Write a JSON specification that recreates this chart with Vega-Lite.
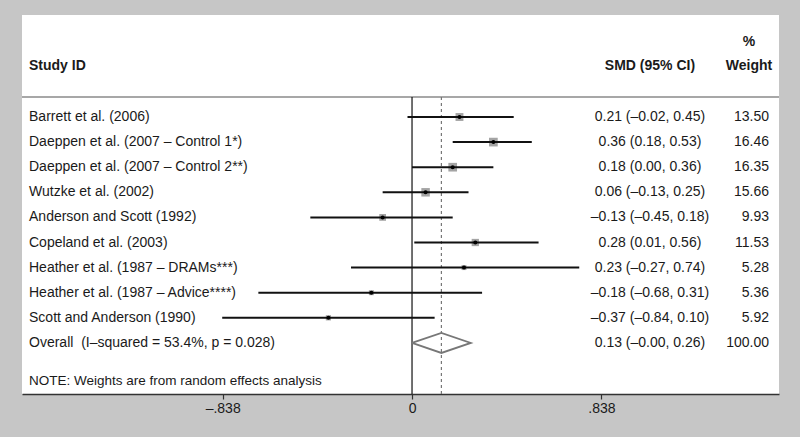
{
  "$schema": "https://vega.github.io/schema/vega-lite/v6.json",
  "width": 757,
  "height": 379,
  "autosize": {"type": "none"},
  "padding": {"left": 22, "top": 15, "right": 21, "bottom": 43},
  "background": "#c6c6c6",
  "view": {"fill": "white", "stroke": null},
  "config": {"font": "Liberation Sans", "text": {"font": "Liberation Sans", "fontSize": 14, "color": "#1a1a1a", "baseline": "middle"}},
  "datasets": {
    "studies": [
      {"row": 1, "study": "Barrett et al. (2006)", "smd": 0.21, "lo": -0.02, "hi": 0.45, "weight": 13.50, "ci": "0.21 (–0.02, 0.45)", "w": "13.50"},
      {"row": 2, "study": "Daeppen et al. (2007 – Control 1*)", "smd": 0.36, "lo": 0.18, "hi": 0.53, "weight": 16.46, "ci": "0.36 (0.18, 0.53)", "w": "16.46"},
      {"row": 3, "study": "Daeppen et al. (2007 – Control 2**)", "smd": 0.18, "lo": 0.00, "hi": 0.36, "weight": 16.35, "ci": "0.18 (0.00, 0.36)", "w": "16.35"},
      {"row": 4, "study": "Wutzke et al. (2002)", "smd": 0.06, "lo": -0.13, "hi": 0.25, "weight": 15.66, "ci": "0.06 (–0.13, 0.25)", "w": "15.66"},
      {"row": 5, "study": "Anderson and Scott (1992)", "smd": -0.13, "lo": -0.45, "hi": 0.18, "weight": 9.93, "ci": "–0.13 (–0.45, 0.18)", "w": "9.93"},
      {"row": 6, "study": "Copeland et al. (2003)", "smd": 0.28, "lo": 0.01, "hi": 0.56, "weight": 11.53, "ci": "0.28 (0.01, 0.56)", "w": "11.53"},
      {"row": 7, "study": "Heather et al. (1987 – DRAMs***)", "smd": 0.23, "lo": -0.27, "hi": 0.74, "weight": 5.28, "ci": "0.23 (–0.27, 0.74)", "w": "5.28"},
      {"row": 8, "study": "Heather et al. (1987 – Advice****)", "smd": -0.18, "lo": -0.68, "hi": 0.31, "weight": 5.36, "ci": "–0.18 (–0.68, 0.31)", "w": "5.36"},
      {"row": 9, "study": "Scott and Anderson (1990)", "smd": -0.37, "lo": -0.84, "hi": 0.10, "weight": 5.92, "ci": "–0.37 (–0.84, 0.10)", "w": "5.92"},
      {"row": 10, "study": "Overall\u00a0 (I–squared = 53.4%, p = 0.028)", "smd": 0.13, "lo": -0.00, "hi": 0.26, "weight": 100.00, "ci": "0.13 (–0.00, 0.26)", "w": "100.00"}
    ],
    "diamond": [
      {"order": 1, "x": 0.0, "y": 10},
      {"order": 2, "x": 0.13, "y": 9.6},
      {"order": 3, "x": 0.26, "y": 10},
      {"order": 4, "x": 0.13, "y": 10.4},
      {"order": 5, "x": 0.0, "y": 10}
    ]
  },
  "data": {"name": "studies"},
  "layer": [
    {
      "data": {"values": [{}]},
      "mark": {"type": "rule", "color": "#8a8a8a", "strokeWidth": 1.5},
      "encoding": {
        "y": {"datum": 0.2, "type": "quantitative", "scale": {"domain": [-3.064, 12.036], "reverse": true, "nice": false, "zero": false}, "axis": null}
      }
    },
    {
      "data": {"values": [{}]},
      "mark": {"type": "rule", "color": "#111", "strokeWidth": 1.2},
      "encoding": {
        "x": {"datum": 0, "type": "quantitative"},
        "y": {"datum": 0.2, "type": "quantitative"},
        "y2": {"datum": 12.036}
      }
    },
    {
      "data": {"values": [{}]},
      "mark": {"type": "rule", "color": "#777", "strokeWidth": 1.2, "strokeDash": [3, 3]},
      "encoding": {
        "x": {"datum": 0.13, "type": "quantitative"},
        "y": {"datum": 0.2, "type": "quantitative"},
        "y2": {"datum": 12.036}
      }
    },
    {
      "transform": [{"filter": "datum.row < 10"}],
      "mark": {"type": "point", "shape": "square", "filled": true, "color": "#a4a4a4", "opacity": 1},
      "encoding": {
        "x": {"field": "smd", "type": "quantitative"},
        "y": {"field": "row", "type": "quantitative"},
        "size": {"field": "weight", "type": "quantitative", "scale": {"domain": [0, 20], "range": [0, 92]}, "legend": null}
      }
    },
    {
      "transform": [{"filter": "datum.row < 10"}],
      "mark": {"type": "rule", "color": "#111", "strokeWidth": 2},
      "encoding": {
        "x": {"field": "lo", "type": "quantitative"},
        "x2": {"field": "hi"},
        "y": {"field": "row", "type": "quantitative"}
      }
    },
    {
      "transform": [{"filter": "datum.row < 10"}],
      "mark": {"type": "point", "shape": "circle", "filled": true, "color": "#000", "size": 16, "opacity": 1},
      "encoding": {
        "x": {"field": "smd", "type": "quantitative"},
        "y": {"field": "row", "type": "quantitative"}
      }
    },
    {
      "data": {"name": "diamond"},
      "mark": {"type": "line", "color": "#777", "strokeWidth": 1.8},
      "encoding": {
        "x": {"field": "x", "type": "quantitative"},
        "y": {"field": "y", "type": "quantitative"},
        "order": {"field": "order"}
      }
    },
    {
      "mark": {"type": "text", "align": "left"},
      "encoding": {
        "x": {"datum": -1.695, "type": "quantitative"},
        "y": {"field": "row", "type": "quantitative"},
        "text": {"field": "study"}
      }
    },
    {
      "mark": {"type": "text", "align": "center"},
      "encoding": {
        "x": {"datum": 1.053, "type": "quantitative"},
        "y": {"field": "row", "type": "quantitative"},
        "text": {"field": "ci"}
      }
    },
    {
      "mark": {"type": "text", "align": "right"},
      "encoding": {
        "x": {"datum": 1.5796, "type": "quantitative"},
        "y": {"field": "row", "type": "quantitative"},
        "text": {"field": "w"}
      }
    },
    {
      "data": {"values": [{}]},
      "mark": {"type": "text", "align": "left", "fontWeight": "bold"},
      "encoding": {
        "x": {"datum": -1.695, "type": "quantitative"},
        "y": {"datum": -1.02, "type": "quantitative"},
        "text": {"value": "Study ID"}
      }
    },
    {
      "data": {"values": [{}]},
      "mark": {"type": "text", "align": "center", "fontWeight": "bold"},
      "encoding": {
        "x": {"datum": 1.053, "type": "quantitative"},
        "y": {"datum": -1.02, "type": "quantitative"},
        "text": {"value": "SMD (95% CI)"}
      }
    },
    {
      "data": {"values": [{}]},
      "mark": {"type": "text", "align": "center", "fontWeight": "bold"},
      "encoding": {
        "x": {"datum": 1.491, "type": "quantitative"},
        "y": {"datum": -1.02, "type": "quantitative"},
        "text": {"value": "Weight"}
      }
    },
    {
      "data": {"values": [{}]},
      "mark": {"type": "text", "align": "center", "fontWeight": "bold"},
      "encoding": {
        "x": {"datum": 1.491, "type": "quantitative"},
        "y": {"datum": -1.99, "type": "quantitative"},
        "text": {"value": "%"}
      }
    },
    {
      "data": {"values": [{}]},
      "mark": {"type": "text", "align": "left", "fontSize": 13.5},
      "encoding": {
        "x": {"datum": -1.695, "type": "quantitative"},
        "y": {"datum": 11.52, "type": "quantitative"},
        "text": {"value": "NOTE: Weights are from random effects analysis"}
      }
    }
  ],
  "encoding": {
    "x": {
      "type": "quantitative",
      "scale": {"domain": [-1.726, 1.624], "nice": false, "zero": false},
      "axis": {
        "title": null,
        "values": [-0.838, 0, 0.838],
        "labelExpr": "datum.value < 0 ? '–.838' : (datum.value > 0 ? '.838' : '0')",
        "grid": false,
        "domainColor": "#333",
        "domainWidth": 1.5,
        "tickColor": "#333",
        "tickSize": 5,
        "tickWidth": 1.2,
        "labelFont": "Liberation Sans",
        "labelFontSize": 14,
        "labelColor": "#1a1a1a",
        "labelPadding": 2
      }
    }
  },
  "resolve": {"scale": {"x": "shared", "y": "shared"}}
}
